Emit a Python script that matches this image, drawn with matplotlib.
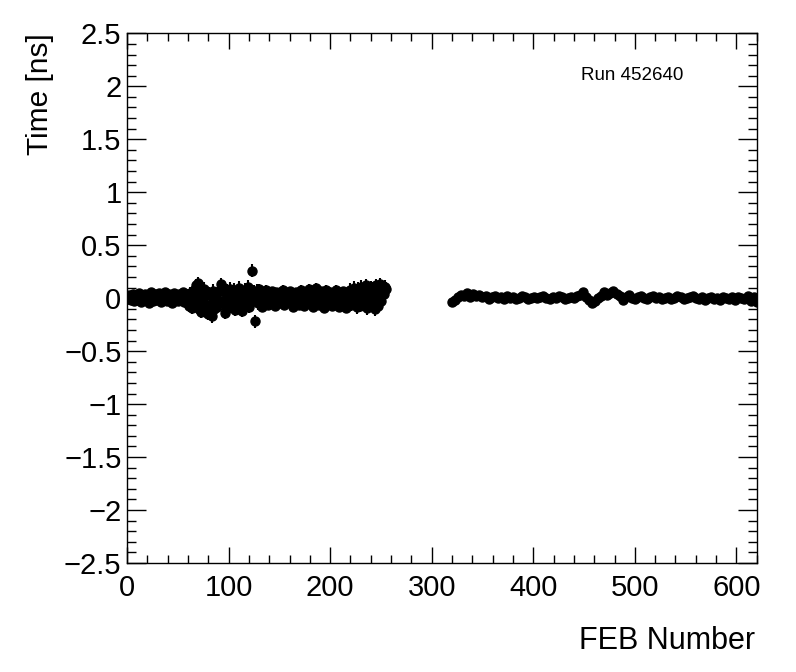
"""FEB timing offsets for one run"""

import matplotlib
matplotlib.use('Agg')
import matplotlib.pyplot as plt
from matplotlib.ticker import MultipleLocator

plt.rcParams['font.family'] = ['Liberation Sans', 'DejaVu Sans']

run_label = 'Run 452640'

# first block of FEBs (0..255, one per FEB)
feb_a = list(range(0, 256))
time_a = [0.02, -0.01, 0.03, 0.01, -0.02, 0.00, 0.04, -0.03, 0.01, 0.02,
          -0.02, 0.03, 0.05, 0.00, -0.04, 0.02, 0.01, -0.02, 0.04, 0.03,
          -0.01, 0.02, -0.05, 0.01, 0.06, 0.00, -0.03, 0.02, 0.04, -0.02,
          0.01, 0.05, -0.01, -0.04, 0.03, 0.02, -0.02, 0.06, 0.00, -0.03,
          0.02, 0.04, -0.02, 0.01, -0.05, 0.03, 0.05, -0.01, 0.02, 0.00,
          -0.03, 0.04, 0.01, -0.02, 0.03, 0.06, -0.04, 0.02, 0.00, -0.05,
          0.03, -0.07, 0.05, -0.02, -0.09, 0.04, 0.08, 0.01, 0.12, -0.06,
          0.14, -0.10, 0.02, -0.13, 0.06, -0.04, 0.09, -0.08, -0.13, 0.03,
          -0.15, 0.05, -0.06, 0.02, -0.17, 0.07, -0.10, 0.00, 0.04, -0.08,
          0.06, -0.03, 0.08, 0.13, -0.05, 0.10, -0.14, 0.03, 0.07, -0.09,
          0.02, 0.09, -0.06, 0.04, -0.02, 0.08, -0.11, 0.01, 0.06, -0.04,
          0.10, -0.07, 0.03, -0.12, 0.05, 0.00, 0.08, -0.05, 0.02, 0.11,
          -0.08, 0.04, 0.01, 0.26, -0.03, 0.06, -0.22, 0.02, 0.07, -0.05,
          0.09, -0.03, 0.04, -0.08, 0.06, 0.01, -0.05, 0.08, 0.02, -0.06,
          0.05, 0.03, -0.04, 0.07, -0.02, 0.04, -0.07, 0.06, 0.00, 0.03,
          -0.05, 0.06, 0.02, -0.03, 0.08, -0.06, 0.01, 0.05, -0.02, 0.04,
          0.07, -0.04, 0.02, -0.08, 0.05, 0.00, 0.06, -0.03, 0.03, -0.06,
          0.04, 0.08, -0.02, 0.05, -0.07, 0.02, 0.06, -0.04, 0.03, 0.09,
          -0.05, 0.02, 0.07, -0.08, 0.04, 0.00, 0.10, -0.03, 0.05, -0.06,
          0.03, 0.07, -0.04, 0.06, -0.09, 0.02, 0.08, -0.02, 0.04, -0.05,
          0.06, 0.01, -0.07, 0.05, 0.03, -0.04, 0.08, -0.01, 0.06, -0.08,
          0.04, 0.02, -0.05, 0.07, -0.02, 0.05, -0.09, 0.03, 0.06, -0.03,
          0.08, -0.06, 0.04, 0.10, -0.04, 0.06, -0.08, 0.09, 0.02, -0.07,
          0.11, 0.05, -0.05, 0.08, -0.02, 0.12, -0.09, 0.07, 0.03, -0.06,
          0.10, -0.04, 0.09, 0.02, -0.10, 0.12, 0.05, -0.07, 0.09, 0.13,
          -0.03, 0.08, 0.10, 0.04, 0.11, 0.09]
# estimated error size by FEB range
err_a = [0.03] * 60 + [0.06] * 70 + [0.04] * 90 + [0.065] * 36

# second block of FEBs (every 3rd FEB, 320..620)
feb_b = list(range(320, 621, 3))
time_b = [-0.04, -0.02, 0.01, 0.03, 0.02, 0.05, 0.01, 0.04, 0.02, 0.03,
          0.01, 0.02, -0.01, 0.01, 0.02, 0.00, 0.01, -0.01, 0.02, 0.00,
          0.01, -0.01, 0.00, 0.02, 0.01, -0.01, 0.00, 0.01, 0.00, 0.01,
          0.02, 0.00, -0.01, 0.01, 0.00, 0.02, 0.01, -0.01, 0.00, 0.01,
          0.00, 0.02, 0.03, 0.06, 0.01, -0.02, -0.05, -0.03, 0.00, 0.02,
          0.06, 0.03, 0.05, 0.07, 0.04, 0.02, -0.02, 0.01, 0.03, 0.00,
          -0.01, 0.01, 0.02, 0.00, -0.01, 0.01, 0.02, 0.00, 0.01, -0.01,
          0.00, 0.01, -0.01, 0.00, 0.02, 0.01, -0.01, 0.00, 0.01, 0.02,
          0.00, -0.01, 0.01, -0.02, 0.00, 0.01, -0.01, 0.00, -0.02, 0.01,
          0.00, -0.01, 0.01, -0.02, 0.01, 0.00, -0.01, 0.02, -0.03, 0.01,
          -0.04]
err_b = [0.015] * len(time_b)


def main():
    """Main"""
    fig = plt.figure(figsize=(7.96, 6.72), dpi=100)
    ax = fig.add_axes([0.1596, 0.1622, 0.7910, 0.7882])

    for feb, tval, terr in [(feb_a, time_a, err_a), (feb_b, time_b, err_b)]:
        ax.errorbar(feb, tval, yerr=terr, fmt='o', color='black',
                    markersize=6.5, elinewidth=1.5, capsize=0)

    ax.set_xlim(0, 620)
    ax.set_ylim(-2.5, 2.5)
    ax.xaxis.set_major_locator(MultipleLocator(100))
    ax.xaxis.set_minor_locator(MultipleLocator(20))
    ax.yaxis.set_major_locator(MultipleLocator(0.5))
    ax.yaxis.set_minor_locator(MultipleLocator(0.1))
    ax.yaxis.set_major_formatter(
        plt.FuncFormatter(lambda v, p: ('%g' % v).replace('-', '\u2212')))

    ax.tick_params(axis='both', which='both', direction='in',
                   top=True, right=True, width=1, labelsize=21)
    ax.tick_params(axis='x', which='major', length=11.5, pad=8)
    ax.tick_params(axis='x', which='minor', length=6)
    ax.tick_params(axis='y', which='major', length=13.5, pad=4)
    ax.tick_params(axis='y', which='minor', length=6.5)
    for spine in ax.spines.values():
        spine.set_linewidth(1)

    fig.text(40 / 796, 1 - 33 / 672, 'Time [ns]', rotation=90,
             ha='center', va='top', fontsize=21.5)
    fig.text(755 / 796, 1 - 641 / 672, 'FEB Number',
             ha='right', va='center', fontsize=22)
    fig.text(581 / 796, 1 - 75 / 672, run_label,
             ha='left', va='center', fontsize=13.5)

    fig.savefig('out.png', dpi=100)


if __name__ == '__main__':
    main()
